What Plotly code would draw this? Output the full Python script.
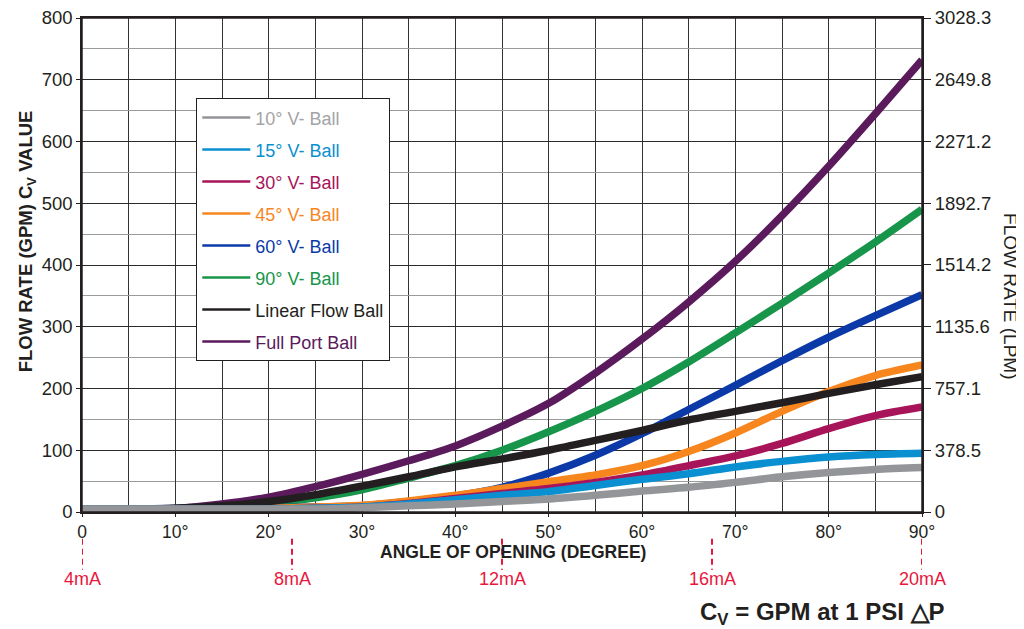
import plotly.graph_objects as go

angles = [0, 5, 10, 15, 20, 25, 30, 35, 40, 45, 50, 55, 60, 65, 70, 75, 80, 85, 90]

full_port = [5, 5, 6, 13, 24, 41, 61, 83, 107, 139, 176, 225, 280, 340, 406, 480, 560, 645, 732]
vball_90 = [5, 5, 5, 8, 14, 23, 36, 55, 75, 100, 130, 163, 200, 243, 290, 338, 387, 437, 490]
vball_60 = [5, 5, 5, 6, 7, 8, 10, 17, 26, 40, 63, 92, 127, 166, 205, 245, 283, 318, 352]
linear = [5, 5, 6, 10, 17, 28, 42, 57, 73, 86, 100, 116, 132, 149, 163, 177, 192, 206, 219]
vball_45 = [5, 5, 5, 5, 6, 8, 11, 18, 27, 38, 49, 60, 75, 98, 128, 163, 195, 221, 238]
vball_30 = [5, 5, 5, 5, 5, 6, 8, 14, 22, 30, 38, 48, 60, 75, 91, 111, 135, 156, 170]
vball_15 = [5, 5, 5, 5, 5, 6, 8, 13, 20, 27, 33, 43, 53, 62, 73, 82, 89, 93, 95]
vball_10 = [5, 5, 5, 5, 5, 5, 7, 10, 13, 17, 21, 27, 34, 40, 48, 57, 64, 69, 72]

series_names = ["10° V- Ball", "15° V- Ball", "30° V- Ball", "45° V- Ball",
                "60° V- Ball", "90° V- Ball", "Linear Flow Ball", "Full Port Ball"]
series_values = [vball_10, vball_15, vball_30, vball_45, vball_60, vball_90, linear, full_port]
series_colors = ["#939598", "#0a8fd0", "#a8145a", "#f7861e", "#0b3aa8", "#17954a", "#231f20", "#5a1a5c"]
legend_text_colors = ["#a3a4a6", "#0a8fd0", "#a8145a", "#f7861e", "#0b3aa8", "#17954a", "#231f20", "#5a1a5c"]

draw_order = [7, 5, 4, 3, 6, 2, 1, 0]

gpm_ticks = [0, 100, 200, 300, 400, 500, 600, 700, 800]
lpm_ticks = [0, 378.5, 757.1, 1135.6, 1514.2, 1892.7, 2271.2, 2649.8, 3028.3]
lpm_labels = ["0", "378.5", "757.1", "1135.6", "1514.2", "1892.7", "2271.2", "2649.8", "3028.3"]
x_ticks = [0, 10, 20, 30, 40, 50, 60, 70, 80, 90]
x_labels = ["0", "10°", "20°", "30°", "40°", "50°", "60°", "70°", "80°", "90°"]
ma_positions = [0, 22.5, 45, 67.5, 90]
ma_labels = ["4mA", "8mA", "12mA", "16mA", "20mA"]

FONT = "Liberation Sans, Arial, Helvetica, sans-serif"
RED = "#e8173d"
INK = "#231f20"

fig = go.Figure()

for i in draw_order:
    fig.add_trace(go.Scatter(
        x=angles, y=series_values[i], mode="lines",
        line=dict(color=series_colors[i], width=7.5, shape="spline", smoothing=0.8),
        showlegend=False, hoverinfo="skip"))

for i in range(len(series_names)):
    fig.add_trace(go.Scatter(
        x=[None], y=[None], mode="lines",
        line=dict(color=series_colors[i], width=2.5),
        name=f'<span style="color:{legend_text_colors[i]}">{series_names[i]}</span>',
        legendgroup=f"g{i}", showlegend=True))

# invisible trace carrying the right-hand LPM axis
fig.add_trace(go.Scatter(x=[0, 90], y=[0, 3028.3], yaxis="y2", mode="lines",
                         line=dict(width=0, color="rgba(0,0,0,0)"),
                         showlegend=False, hoverinfo="skip"))

# plot frame
fig.add_shape(type="rect", xref="paper", yref="paper", x0=0, x1=1, y0=0, y1=1,
              line=dict(color=INK, width=1.5), layer="above")

for pos, lab in zip(ma_positions, ma_labels):
    fig.add_shape(type="line", xref="x", yref="paper", x0=pos, x1=pos,
                  y0=-0.054, y1=-0.117,
                  line=dict(color=RED, width=2, dash="6px,4px"))
    fig.add_annotation(x=pos, y=-0.1356, xref="x", yref="paper", text=lab,
                       showarrow=False, font=dict(family=FONT, size=18, color=RED),
                       xanchor="center", yanchor="middle")

fig.add_annotation(x=-0.066, y=0.547, xref="paper", yref="paper",
                   text="<b>FLOW RATE (GPM) C<sub>V</sub> VALUE</b>", textangle=-90,
                   showarrow=False, font=dict(family=FONT, size=18.5, color=INK),
                   xanchor="center", yanchor="middle")
fig.add_annotation(x=1.106, y=0.437, xref="paper", yref="paper",
                   text="FLOW RATE (LPM)", textangle=90,
                   showarrow=False, font=dict(family=FONT, size=19, color=INK),
                   xanchor="center", yanchor="middle")
fig.add_annotation(x=0.513, y=-0.080, xref="paper", yref="paper",
                   text="<b>ANGLE OF OPENING (DEGREE)</b>",
                   showarrow=False, font=dict(family=FONT, size=17.5, color=INK),
                   xanchor="center", yanchor="middle")
fig.add_annotation(x=0.881, y=-0.2045, xref="paper", yref="paper",
                   text="<b>C<sub>V</sub> = GPM at 1 PSI △P</b>",
                   showarrow=False, font=dict(family=FONT, size=24, color=INK),
                   xanchor="center", yanchor="middle")

# the page body has an 8px margin: size the figure so the plot area lands at
# x 82..922, y 18..512 of the 1024x629 window
fig.update_layout(
    width=1016, height=621,
    margin=dict(l=74, r=102, t=10, b=117, autoexpand=False),
    paper_bgcolor="white", plot_bgcolor="white",
    font=dict(family=FONT, size=18, color=INK),
    showlegend=True,
    legend=dict(x=0.1357, y=0.838, xanchor="left", yanchor="top",
                bgcolor="white", bordercolor=INK, borderwidth=1.3,
                font=dict(family=FONT, size=18),
                traceorder="grouped", tracegroupgap=5.6, itemwidth=48),
    xaxis=dict(range=[0, 90], tickvals=x_ticks, ticktext=x_labels,
               showgrid=True, gridcolor="#333333", gridwidth=1,
               minor=dict(dtick=5, showgrid=True, gridcolor="#333333", gridwidth=1),
               showline=True, linecolor=INK, linewidth=1.5, mirror=True,
               ticks="outside", ticklen=3, tickcolor=INK,
               tickfont=dict(size=17.5), ticklabeloverflow="allow",
               zeroline=False, fixedrange=True, automargin=False),
    yaxis=dict(range=[0, 800], tickvals=gpm_ticks,
               showgrid=True, gridcolor="#2b2b2b", gridwidth=1,
               minor=dict(dtick=50, showgrid=True, gridcolor="#9a9a9a", gridwidth=1),
               showline=True, linecolor=INK, linewidth=1.5, mirror=True,
               ticks="outside", ticklen=4, tickcolor=INK,
               tickfont=dict(size=18.5), ticklabeloverflow="allow",
               zeroline=False, fixedrange=True, automargin=False),
    yaxis2=dict(range=[0, 3028.3], tickvals=lpm_ticks, ticktext=lpm_labels,
                overlaying="y", side="right", showgrid=False, zeroline=False,
                ticks="outside", ticklen=8, tickcolor=INK,
                tickfont=dict(size=18.5), ticklabeloverflow="allow",
                showline=False, fixedrange=True, automargin=False),
)

fig.write_html("out.html")
